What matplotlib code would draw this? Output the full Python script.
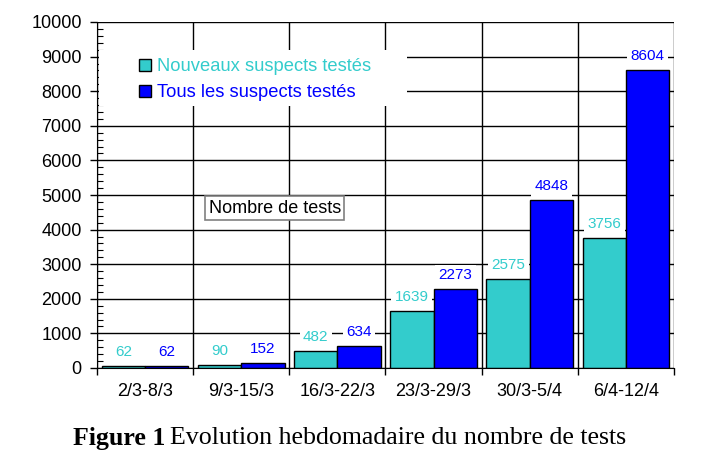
import matplotlib
matplotlib.use("Agg")
import matplotlib.pyplot as plt
from matplotlib.patches import Rectangle
import numpy as np

plt.rcParams['font.family'] = ['Liberation Sans', 'DejaVu Sans']

weeks = ['2/3-8/3', '9/3-15/3', '16/3-22/3', '23/3-29/3', '30/3-5/4', '6/4-12/4']
nouveaux = [62, 90, 482, 1639, 2575, 3756]
tous = [62, 152, 634, 2273, 4848, 8604]

teal = '#33CCCC'
blue = '#0000FF'

fig = plt.figure(figsize=(7.15, 4.63), dpi=100)
ax = fig.add_axes([97 / 715, 1 - 368 / 463, 577 / 715, 346 / 463])

x = np.arange(len(weeks))
w = 0.45
b1 = ax.bar(x - w / 2, nouveaux, w, color=teal, edgecolor='black', linewidth=1, zorder=3)
b2 = ax.bar(x + w / 2, tous, w, color=blue, edgecolor='black', linewidth=1, zorder=3)

ax.set_xlim(-0.5, len(weeks) - 0.5)
ax.set_ylim(0, 10000)

# grid + ticks
ax.set_yticks(np.arange(0, 10001, 1000))
ax.set_yticks(np.arange(0, 10001, 200), minor=True)
ax.set_xticks(np.arange(-0.5, len(weeks), 1))
ax.set_xticklabels([])
ax.set_xticks(x, minor=True)
ax.set_xticklabels(weeks, minor=True, fontsize=13)
ax.tick_params(axis='x', which='minor', length=0, pad=11)
ax.tick_params(axis='x', which='major', length=5, width=1, direction='out')
ax.tick_params(axis='y', which='major', length=5, width=1, direction='out', labelsize=13, pad=6)
ax.tick_params(axis='y', which='minor', length=4, width=0.8, direction='in')
ax.grid(True, which='major', color='black', linewidth=1, zorder=0)
for s in ['top', 'right']:
    ax.spines[s].set_visible(False)
ax.spines['bottom'].set_zorder(4)
ax.set_axisbelow(True)

# value labels
for xi, v in zip(x, nouveaux):
    ax.annotate(str(v), (xi - w / 2, v), xytext=(0, 14), textcoords='offset pixels',
                ha='center', va='center', color=teal, fontsize=11, zorder=5,
                bbox=dict(facecolor='white', edgecolor='none', pad=2.5))
for xi, v in zip(x, tous):
    ax.annotate(str(v), (xi + w / 2, v), xytext=(0, 14), textcoords='offset pixels',
                ha='center', va='center', color=blue, fontsize=11, zorder=5,
                bbox=dict(facecolor='white', edgecolor='none', pad=2.5))

# legend area
ax.add_patch(Rectangle((0.003, 0.757), 0.534, 0.162, transform=ax.transAxes,
                       facecolor='white', edgecolor='none', zorder=2))
leg = ax.legend([b1, b2], ['Nouveaux suspects testés', 'Tous les suspects testés'],
                loc='upper left', bbox_to_anchor=(0.072, 0.895), frameon=False,
                fontsize=13.2, handlelength=0.68, handleheight=0.68, handletextpad=0.3,
                labelspacing=0.5, borderaxespad=0, borderpad=0)
leg.set_zorder(6)
for t, c in zip(leg.get_texts(), [teal, blue]):
    t.set_color(c)

ax.text(0.308, 0.462, 'Nombre de tests', transform=ax.transAxes, ha='center', va='center',
        fontsize=13, zorder=6,
        bbox=dict(facecolor='white', edgecolor='#808080', linewidth=1.2, pad=2.5))

# caption
t1 = fig.text(73 / 715, 1 - 438 / 463, 'Figure 1', fontfamily='Liberation Serif',
              fontweight='bold', fontsize=18.6, va='center', ha='left')
fig.canvas.draw()
bb = t1.get_window_extent()
fig.text((bb.x1 + 5) / 715, 1 - 438 / 463, 'Evolution hebdomadaire du nombre de tests',
         fontfamily='Liberation Serif', fontsize=18.6, va='center', ha='left')

fig.savefig('out.png', dpi=100)
